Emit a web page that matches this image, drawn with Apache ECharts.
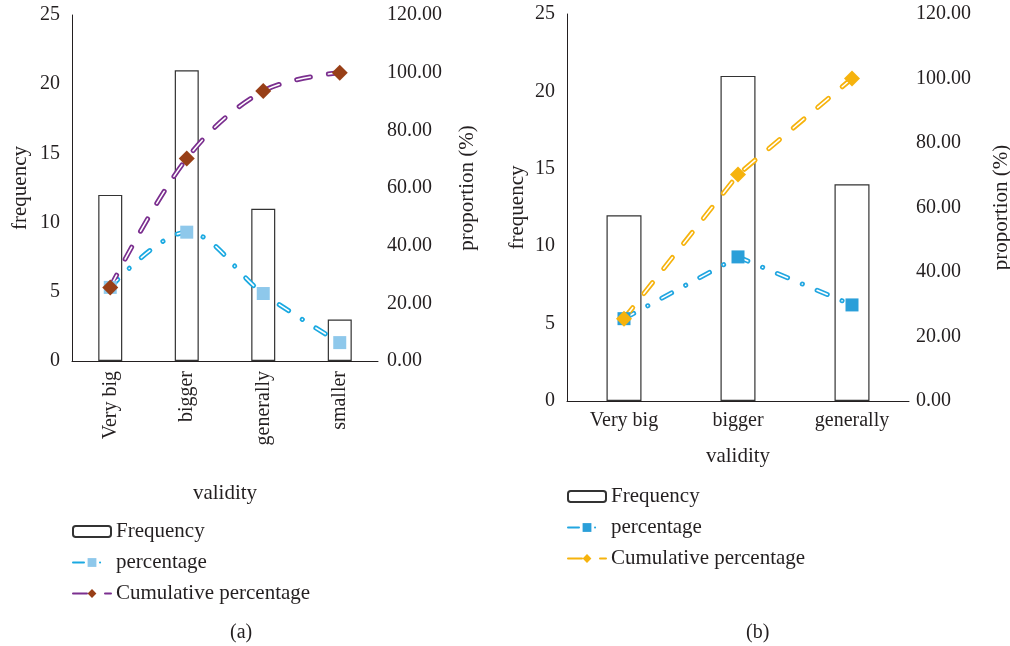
<!DOCTYPE html>
<html>
<head>
<meta charset="utf-8">
<script src="https://cdn.jsdelivr.net/npm/echarts@6/dist/echarts.min.js"></script>
<style>
  html, body { margin: 0; padding: 0; background: #fff; }
  #chart { width: 1010px; height: 646px; }
</style>
</head>
<body>
<div id="chart"></div>
<script>
// chart (a)
var catsA = ['Very big', 'bigger', 'generally', 'smaller'];
var freqA = [12, 21, 11, 3];
var pctA = [25.53, 44.68, 23.40, 6.38];
var cumA = [25.53, 70.21, 93.62, 100];

// chart (b)
var catsB = ['Very big', 'bigger', 'generally'];
var freqB = [12, 21, 14];
var pctB = [25.53, 44.68, 29.79];
var cumB = [25.53, 70.21, 100];

var freqTicks = [0, 25, 5];
var propTicks = [0, 120, 20];

var FONT = '"Liberation Serif", "DejaVu Serif", serif';
var INK = '#231f20';

function txt(size) {
    return { fontFamily: FONT, fontSize: size, color: INK };
}

// a double (outlined) dashed line: coloured stroke, white core on top, markers above
function outlined(name, data, xi, yi, lineColor, markColor, symbol, symSize, dash, smooth) {
    return [
        {
            name: name, type: 'line', data: data,
            xAxisIndex: xi, yAxisIndex: yi,
            smooth: smooth, showSymbol: false,
            symbol: symbol, symbolSize: symSize,
            itemStyle: { color: markColor },
            lineStyle: { color: lineColor, width: 5, type: dash, cap: 'round' },
            z: 3
        },
        {
            name: name, type: 'line', data: data,
            xAxisIndex: xi, yAxisIndex: yi,
            smooth: smooth, showSymbol: false, symbol: 'none',
            lineStyle: { color: '#fff', width: 1.6, type: dash, cap: 'round' },
            z: 4, silent: true
        },
        {
            name: name, type: 'scatter', data: data,
            xAxisIndex: xi, yAxisIndex: yi,
            symbol: symbol, symbolSize: symSize,
            itemStyle: { color: markColor, opacity: 1 },
            z: 5
        }
    ];
}

function bars(name, data, xi, yi, w) {
    return {
        name: name, type: 'bar', data: data,
        xAxisIndex: xi, yAxisIndex: yi, barWidth: w,
        itemStyle: { color: '#fff', borderColor: '#333', borderWidth: 1.2 },
        z: 2
    };
}

function freqAxis(gi, gap) {
    return {
        type: 'value', gridIndex: gi, position: 'left',
        min: freqTicks[0], max: freqTicks[1], interval: freqTicks[2],
        name: 'frequency', nameLocation: 'middle', nameGap: gap,
        nameTextStyle: txt(21),
        axisLine: { show: true, lineStyle: { color: INK, width: 1 } },
        axisTick: { show: false },
        splitLine: { show: false },
        axisLabel: Object.assign(txt(20), { margin: 12 })
    };
}

function propAxis(gi, gap, margin) {
    return {
        type: 'value', gridIndex: gi, position: 'right',
        min: propTicks[0], max: propTicks[1], interval: propTicks[2],
        name: 'proportion (%)', nameLocation: 'middle', nameGap: gap, nameRotate: 90,
        nameTextStyle: txt(21),
        axisLine: { show: false },
        axisTick: { show: false },
        splitLine: { show: false },
        axisLabel: Object.assign(txt(20), {
            margin: margin,
            formatter: function (v) { return v.toFixed(2); }
        })
    };
}

var dashCum = [14, 18];
var dashPct = [11, 16, 0.1, 16];

var series = [].concat(
    bars('Frequency', freqA, 0, 0, 24),
    outlined('percentage', pctA, 0, 1, '#1aa9e1', '#8ec8eb', 'rect', 13, dashPct, 0.35),
    outlined('Cumulative percentage', cumA, 0, 1, '#7b2f8f', '#983f17', 'diamond', 16, dashCum, 0.35),
    bars('Frequency (b)', freqB, 1, 2, 35),
    outlined('percentage (b)', pctB, 1, 3, '#22a6e0', '#2a9fd9', 'rect', 13, dashPct, false),
    outlined('Cumulative percentage (b)', cumB, 1, 3, '#f6b30d', '#f6b30d', 'diamond', 16, dashCum, false)
);

function legend(left, top, names) {
    return {
        orient: 'vertical', left: left, top: top,
        itemWidth: 38, itemHeight: 11, itemGap: 10,
        data: names,
        textStyle: txt(21),
        formatter: function (n) { return n.replace(' (b)', ''); },
        selectedMode: false
    };
}

var chart = echarts.init(document.getElementById('chart'));
chart.setOption({
    backgroundColor: '#fff',
    animation: false,
    grid: [
        { left: 72, top: 15, width: 306, height: 346, outerBoundsMode: 'none' },
        { left: 567, top: 14, width: 342, height: 387, outerBoundsMode: 'none' }
    ],
    xAxis: [
        {
            type: 'category', gridIndex: 0, data: catsA,
            name: 'validity', nameLocation: 'middle', nameGap: 122,
            nameTextStyle: txt(21),
            axisLine: { lineStyle: { color: INK, width: 1 } },
            axisTick: { show: false },
            axisLabel: Object.assign(txt(20), { rotate: 90, margin: 10 })
        },
        {
            type: 'category', gridIndex: 1, data: catsB,
            name: 'validity', nameLocation: 'middle', nameGap: 45,
            nameTextStyle: txt(21),
            axisLine: { lineStyle: { color: INK, width: 1 } },
            axisTick: { show: false },
            axisLabel: Object.assign(txt(20), { margin: 10 })
        }
    ],
    yAxis: [
        freqAxis(0, 41),
        propAxis(0, 79, 9),
        freqAxis(1, 39),
        propAxis(1, 82, 7)
    ],
    legend: [
        legend(67, 516, ['Frequency', 'percentage', 'Cumulative percentage']),
        legend(562, 481, ['Frequency (b)', 'percentage (b)', 'Cumulative percentage (b)'])
    ],
    graphic: [
        { type: 'text', left: 230, top: 623, style: { text: '(a)', font: '20px ' + FONT, fill: INK } },
        { type: 'text', left: 746, top: 623, style: { text: '(b)', font: '20px ' + FONT, fill: INK } }
    ],
    series: series
});
</script>
</body>
</html>
